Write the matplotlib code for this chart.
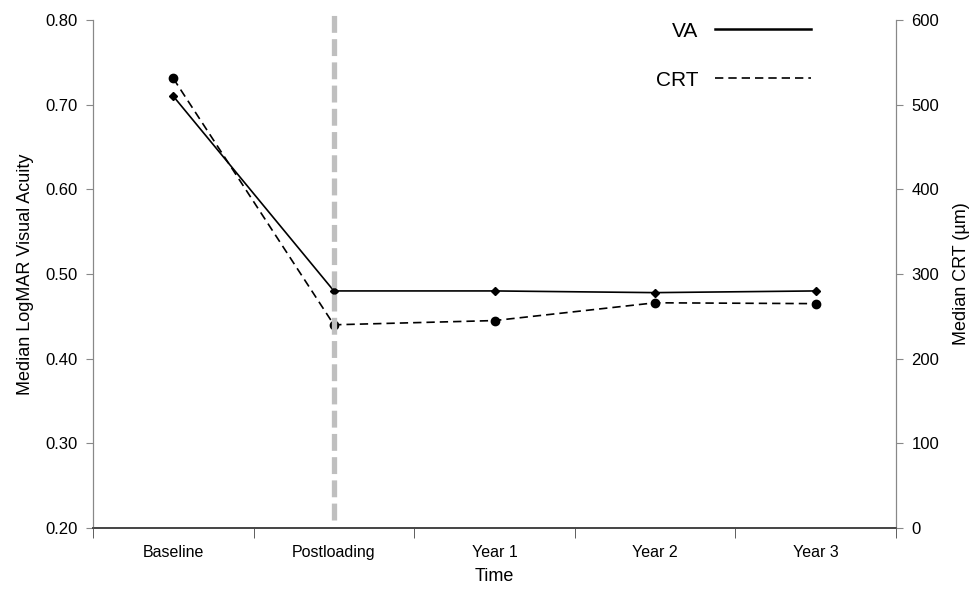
import matplotlib.pyplot as plt
from matplotlib.lines import Line2D
import numpy as np

plt.rcParams['font.family'] = ['Liberation Sans', 'DejaVu Sans']

# data
categories = ['Baseline', 'Postloading', 'Year 1', 'Year 2', 'Year 3']
va_values = [0.71, 0.48, 0.48, 0.478, 0.48]
crt_values = [531, 240, 245, 266, 265]
loading_end = 'Postloading'

x = np.arange(len(categories))

fig = plt.figure(figsize=(9.71, 5.93), dpi=100)
ax = fig.add_axes([93 / 971, 1 - 528 / 593, (896 - 93) / 971, (528 - 20) / 593])
ax2 = ax.twinx()

# lines
ax.plot(x, va_values, color='black', lw=1.2, marker='D', ms=4.5, zorder=3)
ax2.plot(x, crt_values, color='black', lw=1.2, ls=(0, (5, 3)), marker='o', ms=6, zorder=3)

# grey dashed marker for end of loading phase (drawn on the top axes so it sits over the lines)
xl = categories.index(loading_end)
ax2.axvline(xl, ymin=0.015, ymax=1.015, color='#bfbfbf', lw=3.8,
            dashes=(3.2, 1.2), dash_capstyle='butt', clip_on=False, zorder=4)

# x axis
ax.set_xlim(-0.5, len(categories) - 0.5)
ax.set_xticks(x)
ax.set_xticklabels(categories, fontsize=11.5)
ax.set_xticks(np.arange(len(categories) + 1) - 0.5, minor=True)
ax.tick_params(axis='x', which='major', length=0, pad=12)
ax.tick_params(axis='x', which='minor', length=7, color='#444444', direction='out')
ax.set_xlabel('Time', fontsize=13, labelpad=6)

# left axis
ax.set_ylim(0.2, 0.8)
ax.set_yticks(np.arange(0.2, 0.81, 0.1))
ax.set_yticklabels(['%.2f' % v for v in np.arange(0.2, 0.81, 0.1)], fontsize=12)
ax.tick_params(axis='y', length=5, color='#888888', pad=6)
ax.set_ylabel('Median LogMAR Visual Acuity', fontsize=13, labelpad=8)

# right axis
ax2.set_ylim(0, 600)
ax2.set_yticks(np.arange(0, 601, 100))
ax2.tick_params(axis='y', labelsize=12, length=5, color='#888888', pad=6)
ax2.set_ylabel('Median CRT (\u00b5m)', fontsize=13, labelpad=10)

for a in (ax, ax2):
    a.spines['top'].set_visible(False)
    a.spines['left'].set_color('#888888')
    a.spines['right'].set_color('#888888')
    a.spines['bottom'].set_color('#444444')
    a.spines['bottom'].set_linewidth(1.2)

handles = [Line2D([], [], color='black', lw=1.8),
           Line2D([], [], color='black', lw=1.2, ls=(0, (5, 3)))]
ax2.legend(handles, ['VA', 'CRT'], loc='upper right', bbox_to_anchor=(0.894, 0.997),
           frameon=False, markerfirst=False, fontsize=15, handlelength=4.6,
           handletextpad=0.8, labelspacing=1.45, borderpad=0, borderaxespad=0)

fig.savefig('out.png', dpi=100)
